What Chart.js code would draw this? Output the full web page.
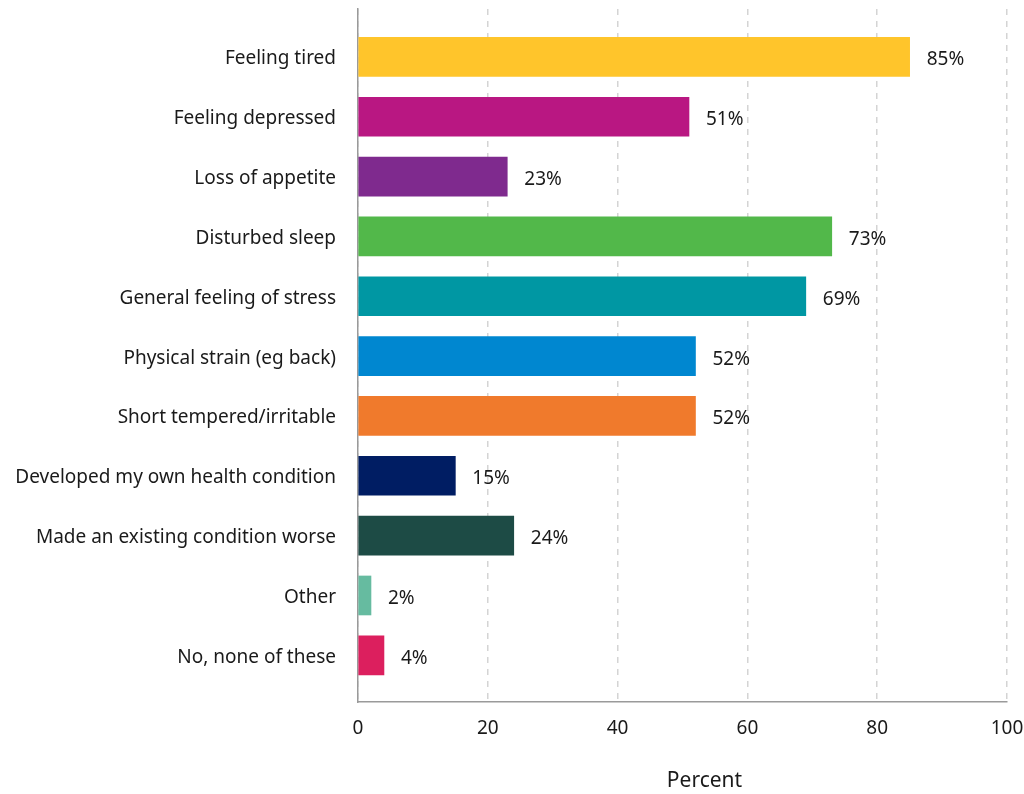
<!DOCTYPE html>
<html>
<head>
<meta charset="utf-8">
<script src="https://cdn.jsdelivr.net/npm/chart.js@4"></script>
<style>
  html, body { margin: 0; padding: 0; background: #fff; }
  #wrap { width: 1024px; height: 794px; position: relative; }
</style>
</head>
<body>
<div id="wrap"><canvas id="chart"></canvas></div>
<script>
const categories = [
  "Feeling tired",
  "Feeling depressed",
  "Loss of appetite",
  "Disturbed sleep",
  "General feeling of stress",
  "Physical strain (eg back)",
  "Short tempered/irritable",
  "Developed my own health condition",
  "Made an existing condition worse",
  "Other",
  "No, none of these"
];
const percents = [85, 51, 23, 73, 69, 52, 52, 15, 24, 2, 4];
const barColors = [
  "#FFC52B", "#B91782", "#7F2A8E", "#52B84A", "#0097A3", "#0087D0",
  "#F07A2C", "#001D63", "#1D4B45", "#66BBA0", "#DC1F5E"
];
const xTicks = [0, 20, 40, 60, 80, 100];
const axisTitle = "Percent";

const FONT = "'Noto Sans', sans-serif";

// value labels at the end of each bar + axis title
const labelPlugin = {
  id: "labels",
  afterDatasetsDraw(chart) {
    const ctx = chart.ctx;
    const meta = chart.getDatasetMeta(0);
    ctx.save();
    ctx.font = "19px " + FONT;
    ctx.fillStyle = "#1a1a1a";
    ctx.textAlign = "left";
    ctx.textBaseline = "middle";
    meta.data.forEach((bar, i) => {
      ctx.fillText(percents[i] + "%", bar.x + 17, bar.y + 3);
    });
    const area = chart.chartArea;
    ctx.font = "21px " + FONT;
    ctx.textAlign = "center";
    ctx.fillText(axisTitle, (area.left + area.right) / 2 + 22, area.bottom + 79);
    ctx.restore();
  }
};

new Chart(document.getElementById("chart"), {
  type: "bar",
  data: {
    datasets: [{
      data: percents.map((v, i) => ({ x: v, y: i })),
      backgroundColor: barColors,
      barThickness: 39,
      borderWidth: 0
    }]
  },
  options: {
    indexAxis: "y",
    responsive: true,
    maintainAspectRatio: false,
    animation: false,
    layout: { padding: { top: 9, right: 17, bottom: 0, left: 0 } },
    plugins: {
      legend: { display: false },
      tooltip: { enabled: false }
    },
    scales: {
      x: {
        type: "linear",
        min: 0,
        max: 100,
        afterBuildTicks: (scale) => { scale.ticks = xTicks.map(v => ({ value: v })); },
        grid: {
          color: "#d4d4d4",
          lineWidth: 1.5,
          drawTicks: false
        },
        border: { display: true, color: "#9a9a9a", width: 1.5, dash: [6, 6] },
        ticks: {
          color: "#1a1a1a",
          font: { family: FONT, size: 19 },
          padding: 15
        },
        afterFit: (scale) => {
          scale.height = 92;
          scale.paddingLeft = 0;
          scale.paddingRight = 0;
        }
      },
      y: {
        type: "linear",
        reverse: true,
        bounds: "data",
        offset: false,
        min: -0.8,
        max: 10.78,
        afterBuildTicks: (scale) => { scale.ticks = categories.map((c, i) => ({ value: i })); },
        grid: { display: false, drawTicks: false, offset: false },
        border: { display: true, color: "#9a9a9a", width: 1.5 },
        ticks: {
          color: "#1a1a1a",
          font: { family: FONT, size: 19 },
          padding: 22,
          labelOffset: 2,
          callback: (v) => categories[v]
        },
        afterFit: (scale) => {
          scale.width = 358;
          scale.paddingTop = 0;
          scale.paddingBottom = 0;
        }
      }
    }
  },
  plugins: [labelPlugin]
});
</script>
</body>
</html>
